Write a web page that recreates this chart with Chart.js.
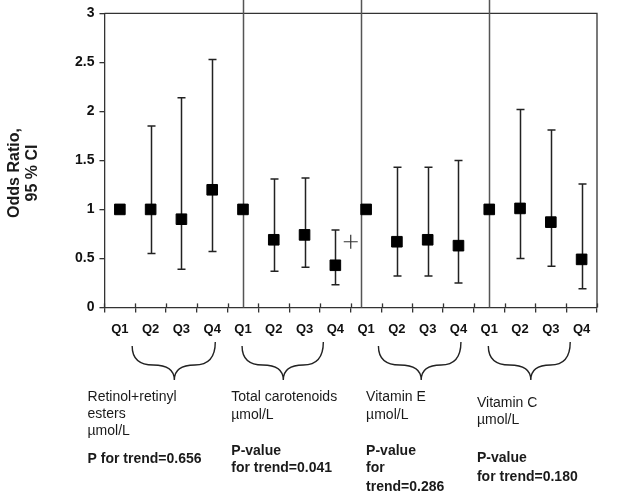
<!DOCTYPE html>
<html>
  <script src="https://cdn.jsdelivr.net/npm/chart.js"></script>
  <body style="margin:0">
    <canvas id="myChart" width="624" height="499"></canvas>

    <script>
      const ctx = document.getElementById('myChart');

      // quartile labels, 4 nutrients x Q1..Q4
      var quartiles = ['Q1', 'Q2', 'Q3', 'Q4', 'Q1', 'Q2', 'Q3', 'Q4', 'Q1', 'Q2', 'Q3', 'Q4', 'Q1', 'Q2', 'Q3', 'Q4'];
      var oddsRatio = [1, 1, 0.90, 1.20, 1, 0.69, 0.74, 0.43, 1, 0.67, 0.69, 0.63, 1, 1.01, 0.87, 0.49];
      var ciLow = [null, 0.55, 0.39, 0.57, null, 0.37, 0.41, 0.23, null, 0.32, 0.32, 0.25, null, 0.50, 0.42, 0.19];
      var ciHigh = [null, 1.85, 2.14, 2.53, null, 1.31, 1.32, 0.79, null, 1.43, 1.43, 1.50, null, 2.02, 1.81, 1.26];
      var yTicks = [0, 0.5, 1, 1.5, 2, 2.5, 3];

      // stray "+" mark in the original figure
      var crossMark = [{ x: 7.5, y: 0.67 }];

      // group separators (in category units)
      var separators = [4, 7.83, 12];

      // braces under the axis: left, tip, right (category units)
      var braces = [[0.4, 1.77, 3.1], [3.97, 5.31, 6.61], [8.4, 9.79, 11.08], [11.97, 13.35, 14.63]];

      var groupText = [
        { x: -1.05, lines: [['Retinol+retinyl', 397, false], ['esters', 414, false], ['µmol/L', 431, false], ['P for trend=0.656', 459, true]] },
        { x: 3.62, lines: [['Total carotenoids', 397, false], ['µmol/L', 415, false], ['P-value', 451, true], ['for trend=0.041', 468, true]] },
        { x: 8.0, lines: [['Vitamin E', 397, false], ['µmol/L', 415, false], ['P-value', 451, true], ['for', 468, true], ['trend=0.286', 487, true]] },
        { x: 11.6, lines: [['Vitamin C', 403, false], ['µmol/L', 420, false], ['P-value', 458, true], ['for trend=0.180', 477, true]] }
      ];

      var FONT = '"Liberation Sans", Arial, sans-serif';

      var points = oddsRatio.map(function (v, i) {
        return { x: i, y: v };
      });

      var extras = {
        id: 'extras',
        beforeDatasetsDraw: function (chart) {
          var c = chart.ctx;
          var xs = chart.scales.xl;
          var ys = chart.scales.y;
          var area = chart.chartArea;
          c.save();

          // top + right frame
          c.strokeStyle = '#333';
          c.lineWidth = 1.3;
          c.beginPath();
          c.moveTo(area.left, area.top);
          c.lineTo(area.right, area.top);
          c.lineTo(area.right, area.bottom);
          c.stroke();

          // separators
          c.strokeStyle = '#555';
          c.lineWidth = 1.5;
          separators.forEach(function (s) {
            var px = Math.round(xs.getPixelForValue(s)) + 0.5;
            c.beginPath();
            c.moveTo(px, 0);
            c.lineTo(px, area.bottom);
            c.stroke();
          });

          // inward half of x tick marks
          c.strokeStyle = '#333';
          c.lineWidth = 1.3;
          for (var k = 0; k <= quartiles.length; k++) {
            var tx = Math.round(xs.getPixelForValue(k - 0.5)) + 0.5;
            c.beginPath();
            c.moveTo(tx, area.bottom);
            c.lineTo(tx, area.bottom - 4);
            c.stroke();
          }

          // error bars
          c.strokeStyle = '#222';
          c.lineWidth = 1.5;
          for (var i = 0; i < oddsRatio.length; i++) {
            if (ciLow[i] == null) continue;
            var x = Math.round(xs.getPixelForValue(i)) + 0.5;
            var y1 = ys.getPixelForValue(ciLow[i]);
            var y2 = ys.getPixelForValue(ciHigh[i]);
            c.beginPath();
            c.moveTo(x, y1);
            c.lineTo(x, y2);
            c.moveTo(x - 4, y1);
            c.lineTo(x + 4, y1);
            c.moveTo(x - 4, y2);
            c.lineTo(x + 4, y2);
            c.stroke();
          }
          c.restore();
        },
        afterDraw: function (chart) {
          var c = chart.ctx;
          var xs = chart.scales.xl;
          c.save();

          // braces
          c.strokeStyle = '#222';
          c.lineWidth = 1.4;
          var top = 344, low = 365, tip = 380;
          braces.forEach(function (b) {
            var L = xs.getPixelForValue(b[0]);
            var M = xs.getPixelForValue(b[1]);
            var R = xs.getPixelForValue(b[2]);
            c.beginPath();
            c.moveTo(L, top + 2);
            c.quadraticCurveTo(L, low, (L + M) / 2, low);
            c.quadraticCurveTo(M, low, M, tip);
            c.moveTo(R, top - 2);
            c.quadraticCurveTo(R, low, (R + M) / 2, low);
            c.quadraticCurveTo(M, low, M, tip);
            c.stroke();
          });

          // group captions
          c.fillStyle = '#1a1a1a';
          c.textBaseline = 'middle';
          c.textAlign = 'left';
          groupText.forEach(function (g) {
            var gx = xs.getPixelForValue(g.x);
            g.lines.forEach(function (l) {
              c.font = (l[2] ? 'bold ' : '') + '14px ' + FONT;
              c.fillText(l[0], gx, l[1]);
            });
          });

          // y axis title
          c.font = 'bold 16px ' + FONT;
          c.textAlign = 'center';
          c.save();
          c.translate(15, 173);
          c.rotate(-Math.PI / 2);
          c.fillText('Odds Ratio,', 0, 0);
          c.restore();
          c.save();
          c.translate(33, 173);
          c.rotate(-Math.PI / 2);
          c.fillText('95 % CI', 0, 0);
          c.restore();

          c.restore();
        }
      };

      new Chart(ctx, {
        type: 'scatter',
        data: {
          labels: quartiles,
          datasets: [
            {
              label: 'Odds ratio',
              data: points,
              xAxisID: 'xl',
              pointStyle: 'rect',
              pointRadius: 7.5,
              pointHoverRadius: 7.5,
              backgroundColor: '#000',
              borderColor: '#000',
              borderWidth: 1
            },
            {
              label: 'mark',
              data: crossMark,
              xAxisID: 'xl',
              pointStyle: 'cross',
              pointRadius: 7,
              pointHoverRadius: 7,
              borderColor: '#333',
              borderWidth: 1.2
            }
          ]
        },
        options: {
          responsive: false,
          animation: false,
          layout: {
            padding: { left: 70, right: 27, top: 7, bottom: 153 }
          },
          plugins: {
            legend: { display: false },
            tooltip: { enabled: false }
          },
          scales: {
            x: {
              type: 'category',
              offset: true,
              grid: { offset: true, drawOnChartArea: false, tickLength: 5, color: '#333', lineWidth: 1.3 },
              border: { color: '#333', width: 1.3 },
              ticks: { color: '#111', padding: 9, font: { family: FONT, size: 13, weight: 'bold' } }
            },
            xl: {
              type: 'linear',
              display: false,
              min: -0.5,
              max: quartiles.length - 0.5
            },
            y: {
              min: 0,
              max: 3,
              afterBuildTicks: function (axis) {
                axis.ticks = yTicks.map(function (v) { return { value: v }; });
              },
              grid: { drawOnChartArea: false, tickLength: 5, color: '#333', lineWidth: 1.3 },
              border: { color: '#333', width: 1.3 },
              ticks: {
                color: '#111',
                padding: 5,
                font: { family: FONT, size: 14, weight: 'bold' },
                callback: function (v) { return String(v); }
              }
            }
          }
        },
        plugins: [extras]
      });
    </script>
  </body>
</html>
